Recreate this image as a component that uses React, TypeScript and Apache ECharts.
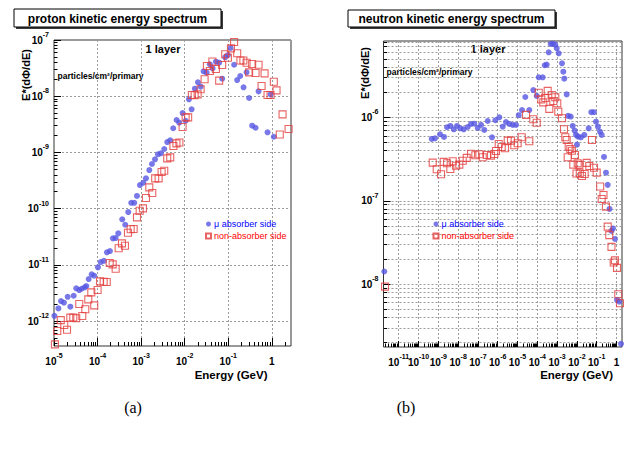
import React, { useEffect, useRef } from 'react';
import * as echarts from 'echarts';

// ---------- data ----------
const ABS_NAME = 'μ absorber side';
const NON_NAME = 'non-absorber side';

const PROTON_ABS_E = [1.02e-5, 1.26e-5, 1.45e-5, 1.69e-5, 2.06e-5, 2.37e-5, 2.83e-5, 3.24e-5, 3.8e-5, 4.31e-5, 5.06e-5, 5.51e-5, 6.25e-5, 7.33e-5, 8.39e-5, 1.02e-4, 1.18e-4, 1.4e-4, 1.64e-4, 1.92e-4, 2.25e-4, 2.6e-4, 2.99e-4, 3.69e-4, 4.32e-4, 5.06e-4, 5.93e-4, 6.95e-4, 8.02e-4, 9.37e-4, 1.12e-3, 1.29e-3, 1.54e-3, 1.77e-3, 2.08e-3, 2.43e-3, 2.84e-3, 3.39e-3, 3.97e-3, 4.65e-3, 5.45e-3, 6.52e-3, 7.48e-3, 8.95e-3, 1.05e-2, 1.25e-2, 1.44e-2, 1.71e-2, 2.01e-2, 2.32e-2, 2.71e-2, 3.18e-2, 3.78e-2, 4.37e-2, 5.2e-2, 6.18e-2, 7.24e-2, 8.49e-2, 9.8e-2, 0.113, 0.136, 0.16, 0.188, 0.224, 0.263, 0.301, 0.353, 0.423, 0.495, 0.796, 0.933, 1.11];
const PROTON_ABS_FLUX = [1.24e-12, 1.68e-12, 2.27e-12, 2.12e-12, 2.7e-12, 1.8e-12, 2.82e-12, 3.82e-12, 3.56e-12, 3.76e-12, 3.98e-12, 4.2e-12, 5.58e-12, 6.78e-12, 6.4e-12, 9.02e-12, 1.12e-11, 1.18e-11, 1.67e-11, 1.76e-11, 2.96e-11, 3.0e-11, 3.63e-11, 6.45e-11, 5.17e-11, 8.7e-11, 1.27e-10, 1.27e-10, 1.68e-10, 2.63e-10, 2.89e-10, 3.46e-10, 4.86e-10, 6.22e-10, 7.54e-10, 9.25e-10, 9.64e-10, 1.15e-9, 1.53e-9, 1.64e-9, 2.69e-9, 3.77e-9, 3.38e-9, 5.02e-9, 3.66e-9, 8.81e-9, 5.85e-9, 1.36e-8, 1.77e-8, 1.48e-8, 2.77e-8, 2.62e-8, 3.7e-8, 3.14e-8, 4.11e-8, 3.95e-8, 2.05e-8, 4.92e-8, 5.41e-8, 7.21e-8, 3.63e-8, 1.94e-8, 2.29e-8, 1.44e-8, 2.66e-8, 9.29e-9, 2.99e-9, 2.75e-9, 1.22e-8, 2.28e-9, 1.08e-8, 1.9e-9];

const PROTON_NON_E = [1.05e-5, 1.19e-5, 1.43e-5, 1.72e-5, 1.99e-5, 2.37e-5, 2.77e-5, 3.24e-5, 3.8e-5, 4.46e-5, 5.23e-5, 6.12e-5, 7.18e-5, 8.39e-5, 1.0e-4, 1.14e-4, 1.38e-4, 1.62e-4, 1.9e-4, 2.22e-4, 2.6e-4, 3.05e-4, 3.63e-4, 4.25e-4, 4.98e-4, 5.74e-4, 6.73e-4, 8.02e-4, 9.25e-4, 1.1e-3, 1.29e-3, 1.54e-3, 1.8e-3, 2.1e-3, 2.52e-3, 2.95e-3, 3.39e-3, 3.97e-3, 4.65e-3, 5.51e-3, 6.46e-3, 7.55e-3, 8.95e-3, 1.05e-2, 1.2e-2, 1.46e-2, 1.69e-2, 1.98e-2, 2.32e-2, 2.86e-2, 3.23e-2, 3.78e-2, 4.32e-2, 5.2e-2, 6.18e-2, 7.24e-2, 8.49e-2, 9.8e-2, 0.115, 0.136, 0.16, 0.19, 0.222, 0.263, 0.301, 0.353, 0.423, 0.495, 0.581, 0.681, 0.796, 0.933, 1.11, 1.28, 1.52, 1.76, 2.42];
const PROTON_NON_FLUX = [3.85e-13, 6.64e-13, 1.04e-12, 8.49e-13, 7.0e-13, 1.15e-12, 1.15e-12, 1.12e-12, 2.01e-12, 1.23e-12, 1.62e-12, 2.43e-12, 3.24e-12, 1.9e-12, 3.56e-12, 5.08e-12, 5.0e-12, 4.94e-12, 1.08e-11, 1.02e-11, 8.53e-12, 1.97e-11, 2.41e-11, 2.19e-11, 3.73e-11, 4.29e-11, 4.34e-11, 7.0e-11, 9.18e-11, 1.01e-10, 1.55e-10, 2.39e-10, 1.9e-10, 3.46e-10, 3.46e-10, 4.48e-10, 4.72e-10, 7.85e-10, 8.18e-10, 1.3e-9, 1.45e-9, 1.5e-9, 2.83e-9, 4.21e-9, 4.21e-9, 1.05e-8, 1.04e-8, 1.08e-8, 1.33e-8, 2.0e-8, 3.44e-8, 2.81e-8, 4.14e-8, 3.05e-8, 1.89e-8, 3.59e-8, 5.57e-8, 4.84e-8, 7.11e-8, 9.21e-8, 5.8e-8, 4.32e-8, 4.32e-8, 3.95e-8, 2.66e-8, 3.74e-8, 2.59e-8, 3.63e-8, 1.52e-8, 2.55e-8, 1.05e-8, 1.05e-8, 1.81e-8, 1.27e-8, 2.08e-9, 4.76e-9, 2.61e-9];

const NEUTRON_ABS_E = [1.87e-12, 4.64e-10, 6.81e-10, 1.22e-9, 1.94e-9, 2.75e-9, 4.04e-9, 6.0e-9, 8.79e-9, 1.29e-8, 1.92e-8, 3.05e-8, 4.49e-8, 6.58e-8, 9.77e-8, 1.44e-7, 2.1e-7, 3.13e-7, 5.15e-7, 7.57e-7, 1.21e-6, 1.79e-6, 2.62e-6, 3.85e-6, 5.73e-6, 8.4e-6, 1.15e-5, 1.69e-5, 2.48e-5, 3.94e-5, 6.28e-5, 9.33e-5, 1.18e-4, 1.88e-4, 2.37e-4, 2.99e-4, 3.77e-4, 4.75e-4, 6.0e-4, 8.11e-4, 9.55e-4, 1.21e-3, 1.77e-3, 2.06e-3, 2.31e-3, 3.05e-3, 3.56e-3, 4.86e-3, 6.14e-3, 7.74e-3, 9.02e-3, 1.01e-2, 1.14e-2, 1.61e-2, 2.37e-2, 3.94e-2, 5.33e-2, 7.31e-2, 9.23e-2, 0.116, 0.147, 0.179, 0.234, 0.295, 0.36, 0.443, 0.558, 0.665, 0.839, 1.06, 1.38, 1.69];
const NEUTRON_ABS_FLUX = [1.42e-8, 5.5e-7, 5.6e-7, 6.26e-7, 5.81e-7, 7.59e-7, 7.87e-7, 7.18e-7, 7.87e-7, 7.38e-7, 7.18e-7, 7.65e-7, 8.32e-7, 8.38e-7, 7.44e-7, 8.09e-7, 7.05e-7, 9.03e-7, 5.76e-7, 9.21e-7, 1.0e-6, 7.72e-7, 8.78e-7, 8.32e-7, 8.09e-7, 8.09e-7, 1.06e-6, 1.22e-6, 1.75e-6, 1.22e-6, 2.12e-6, 1.8e-6, 3.01e-6, 3.01e-6, 4.2e-6, 4.27e-6, 6.0e-6, 7.55e-6, 7.61e-6, 7.4e-6, 6.7e-6, 5.84e-6, 4.43e-6, 3.52e-6, 2.9e-6, 1.88e-6, 1.04e-6, 1.02e-6, 7.87e-7, 6.91e-7, 6.14e-7, 4.7e-7, 5.86e-7, 5.76e-7, 6.14e-7, 7.38e-7, 1.15e-6, 1.15e-6, 8.86e-7, 7.72e-7, 6.73e-7, 6.14e-7, 3.35e-7, 2.17e-7, 1.55e-7, 7.98e-8, 4.35e-8, 4.66e-8, 3.49e-8, 6.49e-9, 6.19e-9, 1.93e-9];

const NEUTRON_NON_E = [2.03e-12, 5.21e-10, 8.3e-10, 1.37e-9, 1.87e-9, 2.75e-9, 4.04e-9, 5.33e-9, 7.83e-9, 1.15e-8, 1.71e-8, 2.72e-8, 4.49e-8, 7.4e-8, 1.18e-7, 1.75e-7, 2.88e-7, 4.59e-7, 6.73e-7, 8.2e-7, 1.12e-6, 1.59e-6, 2.34e-6, 3.2e-6, 4.7e-6, 6.88e-6, 1.02e-5, 1.63e-5, 2.69e-5, 3.94e-5, 6.28e-5, 9.33e-5, 1.18e-4, 1.59e-4, 2.01e-4, 2.54e-4, 3.35e-4, 4.04e-4, 5.33e-4, 6.43e-4, 8.11e-4, 1.02e-3, 1.15e-3, 1.77e-3, 2.23e-3, 2.59e-3, 3.05e-3, 3.43e-3, 3.85e-3, 4.65e-3, 5.66e-3, 6.58e-3, 8.02e-3, 9.55e-3, 1.1e-2, 1.32e-2, 1.4e-2, 1.81e-2, 2.48e-2, 3.13e-2, 4.23e-2, 5.79e-2, 7.31e-2, 0.1, 0.15, 0.179, 0.22, 0.295, 0.36, 0.432, 0.558, 0.723, 0.839, 1.06, 1.23, 1.5];
const NEUTRON_NON_FLUX = [9.36e-9, 2.86e-7, 2.38e-7, 2.08e-7, 2.92e-7, 2.81e-7, 2.4e-7, 2.97e-7, 2.63e-7, 2.71e-7, 3.02e-7, 3.26e-7, 3.66e-7, 3.51e-7, 3.6e-7, 3.32e-7, 3.54e-7, 3.47e-7, 3.63e-7, 3.95e-7, 4.79e-7, 4.41e-7, 4.25e-7, 5.25e-7, 5.25e-7, 4.62e-7, 4.88e-7, 5.76e-7, 1.07e-6, 5.16e-7, 9.46e-7, 8.61e-7, 1.97e-6, 1.64e-6, 1.51e-6, 1.7e-6, 2.07e-6, 1.26e-6, 1.85e-6, 1.57e-6, 1.74e-6, 1.47e-6, 1.17e-6, 9.73e-7, 7.18e-7, 5.76e-7, 5.35e-7, 3.32e-7, 4.45e-7, 4.17e-7, 3.98e-7, 2.71e-7, 3.54e-7, 2.12e-7, 2.81e-7, 2.69e-7, 2.13e-7, 1.98e-7, 2.09e-7, 2.84e-7, 2.61e-7, 5.35e-7, 2.49e-7, 2.17e-7, 1.48e-7, 1.05e-7, 1.17e-7, 8.5e-8, 4.9e-8, 3.87e-8, 2.8e-8, 1.82e-8, 1.93e-8, 1.57e-8, 7.59e-9, 5.92e-9];

// axis ranges (energy in GeV, flux in particles/cm²/primary)
const PROTON_X_RANGE = [1e-5, 2.75];
const PROTON_Y_RANGE = [3.6e-13, 1e-7];
const NEUTRON_X_RANGE = [1.7e-12, 1.9];
const NEUTRON_Y_RANGE = [1.77e-9, 8.2e-6];

// ---------- helpers ----------
const FONT = "'Liberation Sans', Arial, Helvetica, sans-serif";
const BLUE = '#5656e2';
const RED = '#e43c3c';

const zip = (xs: number[], ys: number[]) => xs.map((x, i) => [x, ys[i]]);

function decadeExps(range: number[]) {
  const lo = Math.ceil(Math.log10(range[0]) - 1e-9);
  const hi = Math.floor(Math.log10(range[1]) + 1e-9);
  const out: number[] = [];
  for (let n = lo; n <= hi; n++) out.push(n);
  return out;
}
function minorExps(range: number[]) {
  const a = Math.log10(range[0]);
  const b = Math.log10(range[1]);
  const out: number[] = [];
  for (let n = Math.floor(a) - 1; n <= Math.ceil(b); n++) {
    for (let k = 2; k <= 9; k++) {
      const v = n + Math.log10(k);
      if (v > a + 1e-6 && v < b - 1e-6) out.push(v);
    }
  }
  return out;
}

const rich = {
  b: { fontSize: 10, fontWeight: 'bold', fontFamily: FONT, color: '#000', lineHeight: 18 },
  s: { fontSize: 7, fontWeight: 'bold', fontFamily: FONT, color: '#000', lineHeight: 8, verticalAlign: 'top' },
};
const expFormatter = (v: number) => {
  const n = Math.round(v);
  return n === 0 ? '{b|1}' : `{b|10}{s|${n}}`;
};

const gridLine = { show: true, lineStyle: { color: '#9c9c9c', type: [2, 2], width: 1 } };

const labelOpt = (vals: number[], margin: number) => ({
  show: vals.length > 0, customValues: vals, formatter: expFormatter, rich, margin,
  interval: 0, hideOverlap: false, showMinLabel: true, showMaxLabel: true,
});

function logAxis(gridIndex: number, range: number[]) {
  return { type: 'log', logBase: 10, gridIndex, min: range[0], max: range[1], show: false };
}
// decade ticks + grid lines (+ labels for the given decades)
function majorAxis(gridIndex: number, range: number[], pos: string, tickLen: number, margin: number, labelVals: number[]) {
  return {
    type: 'value', gridIndex, position: pos,
    min: Math.log10(range[0]), max: Math.log10(range[1]),
    axisLine: { show: false, onZero: false },
    axisTick: { show: true, inside: true, length: tickLen, customValues: decadeExps(range), lineStyle: { color: '#000', width: 1 } },
    axisLabel: labelOpt(labelVals, margin),
    splitLine: gridLine,
    minorTick: { show: false },
    minorSplitLine: { show: false },
  };
}
// 2..9 ticks (+ optional grid lines, + labels for remaining decades)
function minorAxis(gridIndex: number, range: number[], pos: string, tickLen: number, withGrid: boolean, margin: number, labelVals: number[]) {
  return {
    type: 'value', gridIndex, position: pos,
    min: Math.log10(range[0]), max: Math.log10(range[1]),
    axisLine: { show: false, onZero: false },
    axisTick: { show: true, inside: true, length: tickLen, customValues: minorExps(range), lineStyle: { color: '#000', width: 1 } },
    axisLabel: labelOpt(labelVals, margin),
    splitLine: withGrid ? gridLine : { show: false },
  };
}

function txt(x: number, y: number, text: string, font: string, align = 'left', color = '#000', extra: any = {}) {
  return {
    type: 'text', x, y, silent: true,
    style: { text, font, fill: color, align, verticalAlign: 'middle', textAlign: align, textVerticalAlign: 'middle' },
    ...extra,
  };
}
function titleBox(x: number, y: number, w: number, h: number, text: string) {
  return [
    { type: 'rect', shape: { x: x + 2, y: y + 2, width: w, height: h }, style: { fill: '#3a3a3a' }, silent: true },
    { type: 'rect', shape: { x, y, width: w, height: h }, style: { fill: '#fff', stroke: '#000', lineWidth: 1 }, silent: true },
    txt(x + w / 2, y + h / 2 + 0.5, text, `bold 12px ${FONT}`, 'center'),
  ];
}

function buildOption() {
  const absStyle = { symbol: 'circle', symbolSize: 6, itemStyle: { color: BLUE } };
  const nonStyle = {
    symbol: 'rect', symbolSize: 7,
    itemStyle: { color: 'rgba(255,255,255,0)', borderColor: RED, borderWidth: 1.1 },
  };
  const legendData = [
    { name: ABS_NAME, icon: 'circle', textStyle: { color: '#0000ff' } },
    { name: NON_NAME, icon: 'rect', textStyle: { color: '#ff0000' } },
  ];
  const legendBase = {
    orient: 'vertical', itemWidth: 5, itemHeight: 5, itemGap: 2, selectedMode: false,
    textStyle: { fontSize: 9, fontFamily: FONT, lineHeight: 10, padding: [0, 0, 0, -2] },
    data: legendData,
  };

  const pxA = decadeExps(PROTON_X_RANGE);
  const pyA = decadeExps(PROTON_Y_RANGE);
  const nxDec = decadeExps(NEUTRON_X_RANGE);
  const nyDec = decadeExps(NEUTRON_Y_RANGE);
  // neutron energy labels are crowded: alternate them over two axes so none is dropped
  const nxEven = nxDec.filter((_, i) => i % 2 === 0);
  const nxOdd = nxDec.filter((_, i) => i % 2 === 1);

  return {
    animation: false,
    backgroundColor: '#fff',
    grid: [
      { left: 54, top: 40, width: 237, height: 306, show: true, borderColor: '#333', borderWidth: 1, backgroundColor: 'transparent', outerBoundsMode: 'none', containLabel: false },
      { left: 383.5, top: 41, width: 238.5, height: 306, show: true, borderColor: '#333', borderWidth: 1, backgroundColor: 'transparent', outerBoundsMode: 'none', containLabel: false },
    ],
    xAxis: [
      logAxis(0, PROTON_X_RANGE),
      majorAxis(0, PROTON_X_RANGE, 'bottom', 8, 6, pxA),
      minorAxis(0, PROTON_X_RANGE, 'bottom', 4, false, 6, []),
      logAxis(1, NEUTRON_X_RANGE),
      majorAxis(1, NEUTRON_X_RANGE, 'bottom', 6, 6, nxEven),
      minorAxis(1, NEUTRON_X_RANGE, 'bottom', 3.5, false, 6, nxOdd),
    ],
    yAxis: [
      logAxis(0, PROTON_Y_RANGE),
      majorAxis(0, PROTON_Y_RANGE, 'left', 7, 5, pyA),
      minorAxis(0, PROTON_Y_RANGE, 'left', 3.5, false, 5, []),
      logAxis(1, NEUTRON_Y_RANGE),
      majorAxis(1, NEUTRON_Y_RANGE, 'left', 7, 5, nyDec),
      minorAxis(1, NEUTRON_Y_RANGE, 'left', 3.5, true, 5, []),
    ],
    legend: [
      { ...legendBase, left: 200, top: 214 },
      { ...legendBase, left: 427.5, top: 214 },
    ],
    series: [
      { type: 'scatter', name: ABS_NAME, xAxisIndex: 0, yAxisIndex: 0, data: zip(PROTON_ABS_E, PROTON_ABS_FLUX), ...absStyle },
      { type: 'scatter', name: NON_NAME, xAxisIndex: 0, yAxisIndex: 0, data: zip(PROTON_NON_E, PROTON_NON_FLUX), ...nonStyle },
      { type: 'scatter', name: ABS_NAME, xAxisIndex: 3, yAxisIndex: 3, data: zip(NEUTRON_ABS_E, NEUTRON_ABS_FLUX), ...absStyle },
      { type: 'scatter', name: NON_NAME, xAxisIndex: 3, yAxisIndex: 3, data: zip(NEUTRON_NON_E, NEUTRON_NON_FLUX), ...nonStyle },
    ],
    graphic: [
      ...titleBox(14, 9, 207, 18, 'proton kinetic energy spectrum'),
      ...titleBox(348, 10, 207, 17, 'neutron kinetic energy spectrum'),
      txt(163, 48.5, '1 layer', `bold 11px ${FONT}`, 'center'),
      txt(488, 48.5, '1 layer', `bold 11px ${FONT}`, 'center'),
      txt(57.5, 76, 'particles/cm²/primary', `bold 8.5px ${FONT}`),
      txt(386.5, 72, 'particles/cm²/primary', `bold 8.5px ${FONT}`),
      txt(26, 75, 'E*(dΦ/dE)', `bold 11px ${FONT}`, 'center', '#000', { rotation: Math.PI / 2 }),
      txt(364.5, 73, 'E*(dΦ/dE)', `bold 11px ${FONT}`, 'center', '#000', { rotation: Math.PI / 2 }),
      txt(267.5, 374.5, 'Energy (GeV)', `bold 11.5px ${FONT}`, 'right'),
      txt(613, 374.5, 'Energy (GeV)', `bold 11.5px ${FONT}`, 'right'),
      txt(133, 407, '(a)', `16px 'Liberation Serif', 'Times New Roman', serif`, 'center'),
      txt(406, 407, '(b)', `16px 'Liberation Serif', 'Times New Roman', serif`, 'center'),
    ],
  };
}

export default function App() {
  const ref = useRef<HTMLDivElement>(null);
  useEffect(() => {
    if (!ref.current) return;
    const chart = echarts.init(ref.current, undefined, { renderer: 'svg' });
    chart.setOption(buildOption() as any);
    return () => chart.dispose();
  }, []);
  return (
    <div
      ref={ref}
      style={{ position: 'absolute', left: 0, top: 0, width: 626, height: 449, background: '#fff' }}
    />
  );
}
